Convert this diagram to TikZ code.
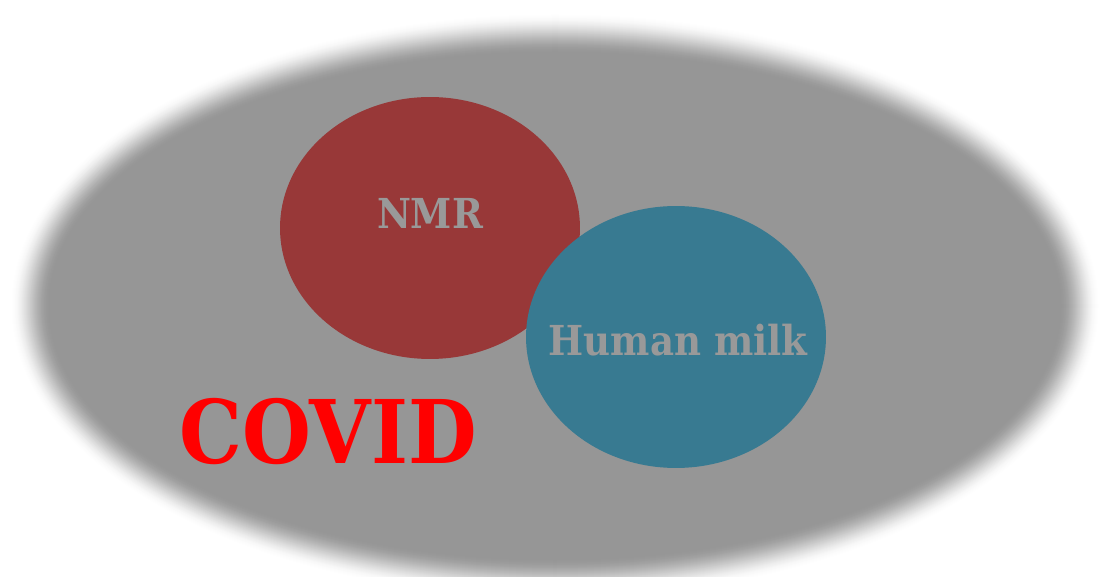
\documentclass[tikz,border=0pt]{standalone}
\usepackage{fontspec}
\setmainfont{DejaVu Serif Condensed}
\usetikzlibrary{shapes.geometric}
\definecolor{HaloGray}{HTML}{969696}
\definecolor{NmrRed}{HTML}{983838}
\definecolor{MilkBlue}{HTML}{387A91}
\definecolor{TextGray}{HTML}{999999}
\definecolor{CovidRed}{HTML}{FF0000}

\begin{document}
\begin{tikzpicture}[
    x=0.02cm, y=-0.02cm,
    bubble/.style={ellipse, draw=none, minimum width=6cm, minimum height=5.24cm, inner sep=0pt},
    tag/.style={text=TextGray, inner sep=0pt, font=\fontsize{23.5}{28}\selectfont\bfseries}
]
\useasboundingbox (0,0) rectangle (1102,577);
% soft edged background
\foreach \d in {0,...,40}{
  \pgfmathsetmacro\t{\d/40}
  \pgfmathsetmacro\p{100*(3*\t*\t-2*\t*\t*\t)}
  \fill[HaloGray!\p!white] (555,306) ellipse [x radius=545-\d, y radius=293-\d];
}

\node[bubble, fill=NmrRed] (nmr) at (430,228) {};
\node[bubble, fill=MilkBlue] (milk) at (676,337) {};

\node[tag] (nmrtext) at (430,213) {NMR};
\node[tag] (milktext) at (678,340) {Human milk};
\node[text=CovidRed, inner sep=0pt, font=\fontsize{50}{60}\selectfont\bfseries] (covid) at (328,432) {COVID};
\end{tikzpicture}
\end{document}
